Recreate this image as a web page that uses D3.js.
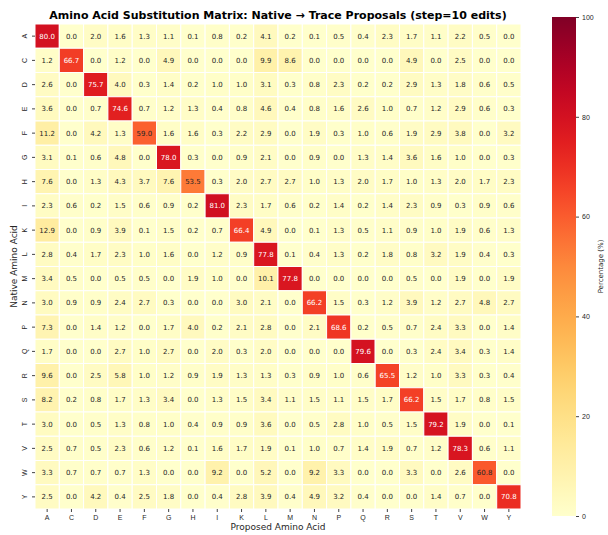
<!DOCTYPE html>
<html>
<head>
<meta charset="utf-8">
<script src="https://cdn.jsdelivr.net/npm/d3@7"></script>
<style>
  body { margin: 0; background: #fff; }
  svg { font-family: "DejaVu Sans", sans-serif; }
</style>
</head>
<body>
<svg id="chart" width="608" height="535"></svg>
<script>
// amino acids (rows = native, cols = proposed)
const aminoAcids = ["A","C","D","E","F","G","H","I","K","L","M","N","P","Q","R","S","T","V","W","Y"];

// percentage values, one array per native residue
const rowA = [80.0,0.0,2.0,1.6,1.3,1.1,0.1,0.8,0.2,4.1,0.2,0.1,0.5,0.4,2.3,1.7,1.1,2.2,0.5,0.0];
const rowC = [1.2,66.7,0.0,1.2,0.0,4.9,0.0,0.0,0.0,9.9,8.6,0.0,0.0,0.0,0.0,4.9,0.0,2.5,0.0,0.0];
const rowD = [2.6,0.0,75.7,4.0,0.3,1.4,0.2,1.0,1.0,3.1,0.3,0.8,2.3,0.2,0.2,2.9,1.3,1.8,0.6,0.5];
const rowE = [3.6,0.0,0.7,74.6,0.7,1.2,1.3,0.4,0.8,4.6,0.4,0.8,1.6,2.6,1.0,0.7,1.2,2.9,0.6,0.3];
const rowF = [11.2,0.0,4.2,1.3,59.0,1.6,1.6,0.3,2.2,2.9,0.0,1.9,0.3,1.0,0.6,1.9,2.9,3.8,0.0,3.2];
const rowG = [3.1,0.1,0.6,4.8,0.0,78.0,0.3,0.0,0.9,2.1,0.0,0.9,0.0,1.3,1.4,3.6,1.6,1.0,0.0,0.3];
const rowH = [7.6,0.0,1.3,4.3,3.7,7.6,53.5,0.3,2.0,2.7,2.7,1.0,1.3,2.0,1.7,1.0,1.3,2.0,1.7,2.3];
const rowI = [2.3,0.6,0.2,1.5,0.6,0.9,0.2,81.0,2.3,1.7,0.6,0.2,1.4,0.2,1.4,2.3,0.9,0.3,0.9,0.6];
const rowK = [12.9,0.0,0.9,3.9,0.1,1.5,0.2,0.7,66.4,4.9,0.0,0.1,1.3,0.5,1.1,0.9,1.0,1.9,0.6,1.3];
const rowL = [2.8,0.4,1.7,2.3,1.0,1.6,0.0,1.2,0.9,77.8,0.1,0.4,1.3,0.2,1.8,0.8,3.2,1.9,0.4,0.3];
const rowM = [3.4,0.5,0.0,0.5,0.5,0.0,1.9,1.0,0.0,10.1,77.8,0.0,0.0,0.0,0.0,0.5,0.0,1.9,0.0,1.9];
const rowN = [3.0,0.9,0.9,2.4,2.7,0.3,0.0,0.0,3.0,2.1,0.0,66.2,1.5,0.3,1.2,3.9,1.2,2.7,4.8,2.7];
const rowP = [7.3,0.0,1.4,1.2,0.0,1.7,4.0,0.2,2.1,2.8,0.0,2.1,68.6,0.2,0.5,0.7,2.4,3.3,0.0,1.4];
const rowQ = [1.7,0.0,0.0,2.7,1.0,2.7,0.0,2.0,0.3,2.0,0.0,0.0,0.0,79.6,0.0,0.3,2.4,3.4,0.3,1.4];
const rowR = [9.6,0.0,2.5,5.8,1.0,1.2,0.9,1.9,1.3,1.3,0.3,0.9,1.0,0.6,65.5,1.2,1.0,3.3,0.3,0.4];
const rowS = [8.2,0.2,0.8,1.7,1.3,3.4,0.0,1.3,1.5,3.4,1.1,1.5,1.1,1.5,1.7,66.2,1.5,1.7,0.8,1.5];
const rowT = [3.0,0.0,0.5,1.3,0.8,1.0,0.4,0.9,0.9,3.6,0.0,0.5,2.8,1.0,0.5,1.5,79.2,1.9,0.0,0.1];
const rowV = [2.5,0.7,0.5,2.3,0.6,1.2,0.1,1.6,1.7,1.9,0.1,1.0,0.7,1.4,1.9,0.7,1.2,78.3,0.6,1.1];
const rowW = [3.3,0.7,0.7,0.7,1.3,0.0,0.0,9.2,0.0,5.2,0.0,9.2,3.3,0.0,0.0,3.3,0.0,2.6,60.8,0.0];
const rowY = [2.5,0.0,4.2,0.4,2.5,1.8,0.0,0.4,2.8,3.9,0.4,4.9,3.2,0.4,0.0,0.0,1.4,0.7,0.0,70.8];

const matrix = [rowA,rowC,rowD,rowE,rowF,rowG,rowH,rowI,rowK,rowL,rowM,rowN,rowP,rowQ,rowR,rowS,rowT,rowV,rowW,rowY];
const colorbarTicks = [0, 20, 40, 60, 80, 100];

//layout
const margin = {top: 24, left: 35};
const width = 486;
const height = 485;

function main() {
    let cells = [];
    matrix.forEach((row, i) => row.forEach((v, j) => {
        cells.push({row: aminoAcids[i], col: aminoAcids[j], value: v});
    }));

    //scales
    let xScale = d3.scaleBand().domain(aminoAcids).range([0, width]);
    let yScale = d3.scaleBand().domain(aminoAcids).range([0, height]);
    let color = d3.scaleSequential(d3.interpolateYlOrRd).domain([0, 100]);

    let svg = d3.select("#chart");
    let g = svg.append("g")
        .attr("transform", "translate(" + margin.left + "," + margin.top + ")");

    //title
    svg.append("text")
        .attr("x", margin.left + width / 2)
        .attr("y", 19)
        .style("text-anchor", "middle")
        .style("font-size", "11px")
        .style("font-weight", "bold")
        .text("Amino Acid Substitution Matrix: Native \u2192 Trace Proposals (step=10 edits)");

    //cells
    g.selectAll("rect.cell")
        .data(cells)
        .enter().append("rect")
        .attr("class", "cell")
        .attr("x", d => xScale(d.col))
        .attr("y", d => yScale(d.row))
        .attr("width", xScale.bandwidth())
        .attr("height", yScale.bandwidth())
        .attr("fill", d => color(d.value))
        .attr("stroke", "#fff")
        .attr("stroke-width", 1);

    //annotations
    g.selectAll("text.val")
        .data(cells)
        .enter().append("text")
        .attr("class", "val")
        .attr("x", d => xScale(d.col) + xScale.bandwidth() / 2)
        .attr("y", d => yScale(d.row) + yScale.bandwidth() / 2)
        .attr("dy", "0.35em")
        .style("text-anchor", "middle")
        .style("font-size", "7px")
        .attr("fill", d => {
            let c = d3.rgb(color(d.value));
            let lum = 0.2126 * c.r + 0.7152 * c.g + 0.0722 * c.b;
            return lum < 104 ? "#fff" : "#262626";
        })
        .text(d => d.value.toFixed(1));

    //axes
    let xAxis = d3.axisBottom(xScale).tickSize(3).tickSizeOuter(0);
    let yAxis = d3.axisLeft(yScale).tickSize(3).tickSizeOuter(0);

    let gx = g.append("g")
        .attr("transform", "translate(0," + height + ")")
        .call(xAxis);
    gx.select(".domain").remove();
    gx.selectAll("text").style("font-size", "7px").attr("fill", "#262626");
    gx.selectAll("line").attr("stroke", "#444");

    let gy = g.append("g").call(yAxis);
    gy.select(".domain").remove();
    gy.selectAll("line").attr("stroke", "#444");
    gy.selectAll("text")
        .style("font-size", "7px")
        .attr("fill", "#262626")
        .attr("x", null).attr("dy", null)
        .style("text-anchor", "middle")
        .attr("transform", "translate(-8,0) rotate(-90)");

    //axis labels
    svg.append("text")
        .attr("x", margin.left + width / 2)
        .attr("y", 530)
        .style("text-anchor", "middle")
        .style("font-size", "9px")
        .attr("fill", "#262626")
        .text("Proposed Amino Acid");

    svg.append("text")
        .attr("transform", "translate(17," + (margin.top + height / 2) + ") rotate(-90)")
        .style("text-anchor", "middle")
        .style("font-size", "9px")
        .attr("fill", "#262626")
        .text("Native Amino Acid");

    //colorbar
    let cbX = 552, cbY = 17, cbW = 24, cbH = 499;
    let defs = svg.append("defs");
    let grad = defs.append("linearGradient")
        .attr("id", "cbgrad")
        .attr("x1", "0").attr("y1", "1").attr("x2", "0").attr("y2", "0");
    d3.range(0, 1.0001, 0.05).forEach(t => {
        grad.append("stop")
            .attr("offset", t)
            .attr("stop-color", color(t * 100));
    });
    svg.append("rect")
        .attr("x", cbX).attr("y", cbY)
        .attr("width", cbW).attr("height", cbH)
        .attr("fill", "url(#cbgrad)");

    let cbScale = d3.scaleLinear().domain([0, 100]).range([cbY + cbH, cbY]);
    let gc = svg.append("g")
        .attr("transform", "translate(" + (cbX + cbW) + ",0)")
        .call(d3.axisRight(cbScale).tickValues(colorbarTicks).tickSize(3));
    gc.select(".domain").remove();
    gc.selectAll("text").style("font-size", "7px").attr("fill", "#262626");
    gc.selectAll("line").attr("stroke", "#444");

    svg.append("text")
        .attr("transform", "translate(603," + (cbY + cbH / 2) + ") rotate(-90)")
        .style("text-anchor", "middle")
        .style("font-size", "7px")
        .attr("fill", "#262626")
        .text("Percentage (%)");
}

main();
</script>
</body>
</html>
